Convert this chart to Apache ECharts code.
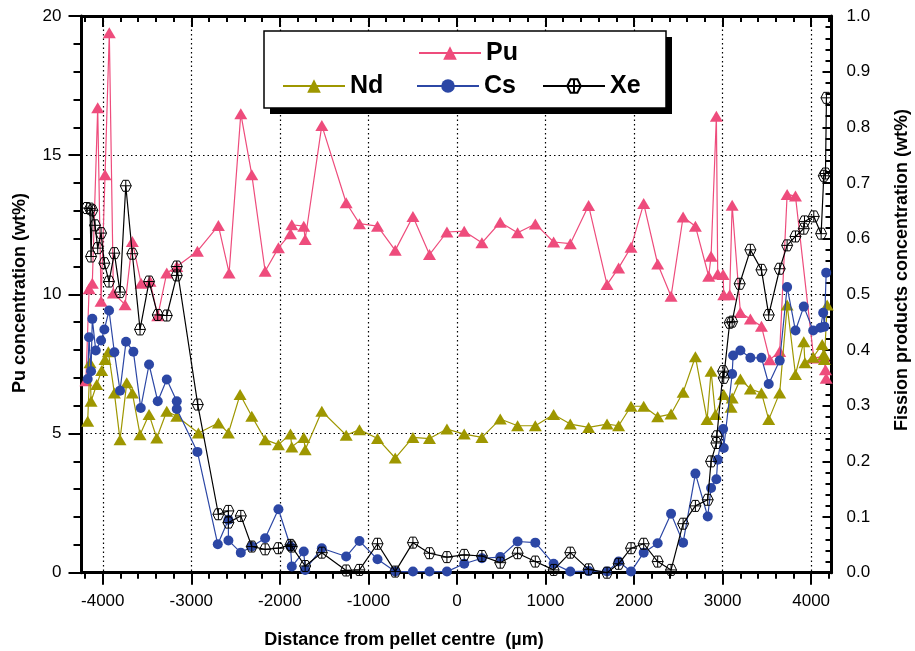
<!DOCTYPE html>
<html>
<head>
<meta charset="utf-8">
<script src="https://cdn.jsdelivr.net/npm/echarts@6/dist/echarts.min.js"></script>
<style>
html,body{margin:0;padding:0;background:#fff;}
#chart{width:915px;height:651px;}
</style>
</head>
<body>
<div id="chart"></div>
<script>
// ---- Data (x = distance from pellet centre in µm) ----
const xTickLabels = [-4000, -3000, -2000, -1000, 0, 1000, 2000, 3000, 4000];
const leftTicks = [0, 5, 10, 15, 20];
const rightTicks = [0, 0.1, 0.2, 0.3, 0.4, 0.5, 0.6, 0.7, 0.8, 0.9, 1.0];

// Pu concentration (wt%), left axis
const puPoints = [
  [-4190, 6.9], [-4154, 10.2], [-4118, 10.4], [-4057, 16.7], [-4019, 9.75], [-3974, 14.3],
  [-3926, 19.4], [-3880, 10.05], [-3748, 9.63], [-3666, 11.9], [-3567, 10.4], [-3466, 10.47],
  [-3379, 9.23], [-3277, 10.77], [-3164, 11.0], [-2931, 11.55], [-2694, 12.47], [-2573, 10.77],
  [-2441, 16.49], [-2317, 14.3], [-2166, 10.83], [-2016, 11.67], [-1880, 12.18], [-1865, 12.5],
  [-1730, 12.45], [-1714, 11.97], [-1526, 16.07], [-1251, 13.29], [-1101, 12.54], [-897, 12.45],
  [-697, 11.58], [-497, 12.8], [-310, 11.43], [-113, 12.24], [82, 12.27], [282, 11.85],
  [489, 12.59], [685, 12.21], [885, 12.53], [1092, 11.88], [1280, 11.82], [1487, 13.19],
  [1695, 10.35], [1826, 10.95], [1966, 11.69], [2109, 13.26], [2267, 11.09], [2418, 9.93],
  [2554, 12.78], [2693, 12.45], [2843, 10.65], [2870, 11.37], [2930, 16.4], [2945, 10.73],
  [3006, 10.71], [3013, 9.99], [3080, 9.99], [3108, 13.2], [3201, 9.35], [3314, 9.11],
  [3439, 8.85], [3533, 7.65], [3645, 7.95], [3729, 13.59], [3823, 13.53], [4029, 7.71],
  [4143, 7.77], [4162, 7.29], [4170, 6.99]
];

// Nd concentration (wt%), right axis
const ndPoints = [
  [-4170, 0.272], [-4144, 0.377], [-4132, 0.308], [-4068, 0.338], [-4012, 0.363], [-3974, 0.383],
  [-3937, 0.397], [-3869, 0.323], [-3805, 0.239], [-3729, 0.341], [-3666, 0.323], [-3579, 0.248],
  [-3477, 0.284], [-3390, 0.242], [-3277, 0.290], [-3164, 0.281], [-2920, 0.251], [-2694, 0.269],
  [-2581, 0.251], [-2449, 0.320], [-2317, 0.281], [-2166, 0.239], [-2016, 0.230], [-1880, 0.249],
  [-1865, 0.226], [-1730, 0.243], [-1714, 0.221], [-1526, 0.290], [-1251, 0.247], [-1101, 0.257],
  [-897, 0.241], [-697, 0.206], [-497, 0.243], [-310, 0.241], [-113, 0.258], [82, 0.249],
  [282, 0.243], [489, 0.276], [685, 0.264], [885, 0.264], [1092, 0.284], [1280, 0.267],
  [1487, 0.261], [1695, 0.267], [1826, 0.264], [1966, 0.299], [2109, 0.299], [2267, 0.280],
  [2418, 0.285], [2554, 0.324], [2693, 0.388], [2825, 0.275], [2870, 0.362], [2919, 0.284],
  [3013, 0.320], [3096, 0.297], [3108, 0.314], [3201, 0.348], [3314, 0.330], [3439, 0.323],
  [3521, 0.275], [3645, 0.323], [3729, 0.481], [3823, 0.356], [3917, 0.415], [3930, 0.377],
  [4023, 0.387], [4125, 0.410], [4143, 0.392], [4150, 0.383], [4181, 0.481]
];

// Cs concentration (wt%), right axis
const csPoints = [
  [-4170, 0.348], [-4155, 0.423], [-4132, 0.362], [-4118, 0.456], [-4079, 0.399], [-4019, 0.417],
  [-3982, 0.437], [-3929, 0.471], [-3869, 0.396], [-3805, 0.327], [-3737, 0.415], [-3654, 0.397],
  [-3571, 0.296], [-3477, 0.374], [-3379, 0.308], [-3277, 0.347], [-3164, 0.308], [-3164, 0.294],
  [-2931, 0.217], [-2701, 0.051], [-2581, 0.095], [-2581, 0.058], [-2441, 0.036], [-2317, 0.047],
  [-2166, 0.062], [-2016, 0.114], [-1880, 0.047], [-1865, 0.011], [-1730, 0.038], [-1714, 0.005],
  [-1526, 0.044], [-1251, 0.029], [-1101, 0.057], [-897, 0.024], [-697, 0.002], [-497, 0.002],
  [-310, 0.002], [-113, 0.002], [82, 0.016], [282, 0.026], [489, 0.028], [685, 0.056],
  [885, 0.054], [1092, 0.016], [1280, 0.002], [1487, 0.003], [1695, 0.002], [1826, 0.020],
  [1966, 0.002], [2109, 0.036], [2267, 0.053], [2418, 0.106], [2554, 0.054], [2693, 0.178],
  [2832, 0.101], [2870, 0.152], [2930, 0.168], [2945, 0.203], [3006, 0.258], [3013, 0.224],
  [3108, 0.357], [3119, 0.390], [3201, 0.399], [3314, 0.386], [3439, 0.386], [3521, 0.339],
  [3645, 0.381], [3729, 0.513], [3823, 0.435], [3917, 0.478], [4023, 0.435], [4106, 0.440],
  [4136, 0.467], [4150, 0.442], [4170, 0.539]
];

// Xe concentration (wt%), right axis
const xePoints = [
  [-4181, 0.655], [-4144, 0.654], [-4132, 0.568], [-4118, 0.651], [-4087, 0.624], [-4057, 0.583],
  [-4019, 0.610], [-3982, 0.556], [-3929, 0.523], [-3869, 0.574], [-3805, 0.504], [-3740, 0.695],
  [-3666, 0.573], [-3579, 0.437], [-3477, 0.523], [-3379, 0.463], [-3277, 0.462], [-3164, 0.534],
  [-3164, 0.550], [-2927, 0.302], [-2694, 0.105], [-2581, 0.111], [-2581, 0.090], [-2441, 0.102],
  [-2317, 0.047], [-2166, 0.042], [-2016, 0.044], [-1880, 0.050], [-1865, 0.047], [-1714, 0.012],
  [-1526, 0.036], [-1251, 0.004], [-1101, 0.005], [-897, 0.052], [-697, 0.002], [-497, 0.054],
  [-310, 0.035], [-113, 0.028], [82, 0.032], [282, 0.030], [489, 0.018], [685, 0.035],
  [885, 0.020], [1092, 0.005], [1280, 0.036], [1487, 0.006], [1695, 0.000], [1826, 0.016],
  [1966, 0.044], [2109, 0.052], [2267, 0.020], [2418, 0.005], [2554, 0.088], [2693, 0.120],
  [2832, 0.131], [2870, 0.200], [2930, 0.233], [2935, 0.245], [3006, 0.362], [3013, 0.350],
  [3080, 0.449], [3108, 0.451], [3193, 0.519], [3314, 0.580], [3439, 0.544], [3521, 0.463],
  [3645, 0.546], [3729, 0.588], [3823, 0.604], [3917, 0.618], [3925, 0.631], [4030, 0.640],
  [4113, 0.609], [4143, 0.713], [4162, 0.717], [4173, 0.853]
];

// ---- Styling ----
const FONT = '"Liberation Sans", Arial, Helvetica, sans-serif';
const PU = '#EE4C7C', ND = '#9E9700', CS = '#2C47A5', XE = '#000000';
const X_MIN = -4240, X_MAX = 4230;
const minorX = [];
for (let v = -4200; v <= 4200; v += 200) if (v % 1000 !== 0) minorX.push(v);
const XE_SYMBOL = 'path://M2,0 L6,0 L8,3.464 L6,6.928 L2,6.928 L0,3.464 Z M4,0 L4,6.928 M0,3.464 L8,3.464';

const dotted = { show: true, lineStyle: { color: '#000', width: 1.2, type: [1.5, 3] } };

function xAxisDef(position, major, showLine) {
  return {
    type: 'value', position, min: X_MIN, max: X_MAX, splitNumber: 8, gridIndex: 0,
    axisLine: { show: showLine, onZero: false, lineStyle: { color: '#000', width: 3 } },
    axisTick: {
      show: true, inside: position === 'top',
      length: major ? (position === 'top' ? 11 : 12) : 6,
      lineStyle: { color: '#000', width: 2 },
      customValues: major ? xTickLabels : minorX
    },
    axisLabel: (major && position === 'bottom') ? {
      show: true, customValues: xTickLabels, margin: 20, color: '#000',
      fontSize: 17, fontFamily: FONT, formatter: v => String(v)
    } : { show: false },
    splitLine: (major && position === 'bottom') ? dotted : { show: false }
  };
}

function legendDef(name, left, top) {
  return {
    data: [name], left, top, padding: 0, itemGap: 0,
    itemWidth: 62, itemHeight: 17, selectedMode: false, z: 20,
    textStyle: { fontSize: 25, fontWeight: 'bold', color: '#000', fontFamily: FONT, lineHeight: 26 }
  };
}

const option = {
  animation: false,
  backgroundColor: '#fff',
  grid: { left: 81.5, right: 83.5, top: 16, bottom: 78.3, containLabel: false },
  xAxis: [
    xAxisDef('bottom', true, true),
    xAxisDef('top', true, true),
    xAxisDef('bottom', false, false),
    xAxisDef('top', false, false)
  ],
  yAxis: [
    {
      type: 'value', position: 'left', min: 0, max: 20, interval: 5,
      axisLine: { show: true, onZero: false, lineStyle: { color: '#000', width: 3 } },
      axisTick: { show: true, inside: false, length: 13, lineStyle: { color: '#000', width: 2 } },
      minorTick: { show: true, splitNumber: 5, length: 8, lineStyle: { color: '#000', width: 2 } },
      axisLabel: { margin: 20, color: '#000', fontSize: 17, fontFamily: FONT },
      splitLine: dotted
    },
    {
      type: 'value', position: 'right', min: 0, max: 1, interval: 0.1,
      axisLine: { show: true, onZero: false, lineStyle: { color: '#000', width: 3 } },
      axisTick: { show: true, inside: true, length: 9, lineStyle: { color: '#000', width: 2 } },
      minorTick: { show: true, splitNumber: 5, length: 6, lineStyle: { color: '#000', width: 2 } },
      axisLabel: { margin: 15, color: '#000', fontSize: 17, fontFamily: FONT,
        formatter: v => v.toFixed(1) },
      splitLine: { show: false }
    }
  ],
  legend: [
    legendDef('Pu', 418, 40),
    legendDef('Nd', 282, 73),
    legendDef('Cs', 416, 73),
    legendDef('Xe', 542, 73)
  ],
  graphic: [
    { type: 'rect', z: 15, shape: { x: 270, y: 37, width: 402, height: 77 }, style: { fill: '#000' } },
    { type: 'rect', z: 16, shape: { x: 264, y: 31, width: 402, height: 77 }, style: { fill: '#fff', stroke: '#000', lineWidth: 1.5 } },
    { type: 'text', x: 20, y: 293, rotation: Math.PI / 2, z: 20,
      style: { text: 'Pu concentration (wt%)', font: 'bold 18px ' + FONT, fill: '#000', align: 'center', verticalAlign: 'middle' } },
    { type: 'text', x: 902, y: 270, rotation: Math.PI / 2, z: 20,
      style: { text: 'Fission products concentration (wt%)', font: 'bold 18px ' + FONT, fill: '#000', align: 'center', verticalAlign: 'middle' } },
    { type: 'text', x: 404, y: 640, z: 20,
      style: { text: 'Distance from pellet centre  (\u00b5m)', font: 'bold 18px ' + FONT, fill: '#000', align: 'center', verticalAlign: 'middle' } }
  ],
  series: [
    {
      name: 'Pu', type: 'line', xAxisIndex: 0, yAxisIndex: 0, data: puPoints, z: 2,
      symbol: 'triangle', symbolSize: [13, 11], showAllSymbol: true,
      itemStyle: { color: PU }, lineStyle: { color: PU, width: 1.2 },
      emphasis: { disabled: true }
    },
    {
      name: 'Nd', type: 'line', xAxisIndex: 0, yAxisIndex: 1, data: ndPoints, z: 3,
      symbol: 'triangle', symbolSize: [13, 11], showAllSymbol: true,
      itemStyle: { color: ND }, lineStyle: { color: ND, width: 1.2 },
      emphasis: { disabled: true }
    },
    {
      name: 'Cs', type: 'line', xAxisIndex: 0, yAxisIndex: 1, data: csPoints, z: 4,
      symbol: 'circle', symbolSize: 10, showAllSymbol: true,
      itemStyle: { color: CS }, lineStyle: { color: CS, width: 1.2 },
      emphasis: { disabled: true }
    },
    {
      name: 'Xe', type: 'line', xAxisIndex: 0, yAxisIndex: 1, data: xePoints, z: 5,
      symbol: XE_SYMBOL, symbolSize: 11, showAllSymbol: true,
      itemStyle: { color: 'rgba(255,255,255,0)', borderColor: XE, borderWidth: 1 },
      lineStyle: { color: XE, width: 1.2 },
      emphasis: { disabled: true }
    }
  ]
};

const chart = echarts.init(document.getElementById('chart'), null, { renderer: 'canvas' });
chart.setOption(option);
</script>
</body>
</html>
